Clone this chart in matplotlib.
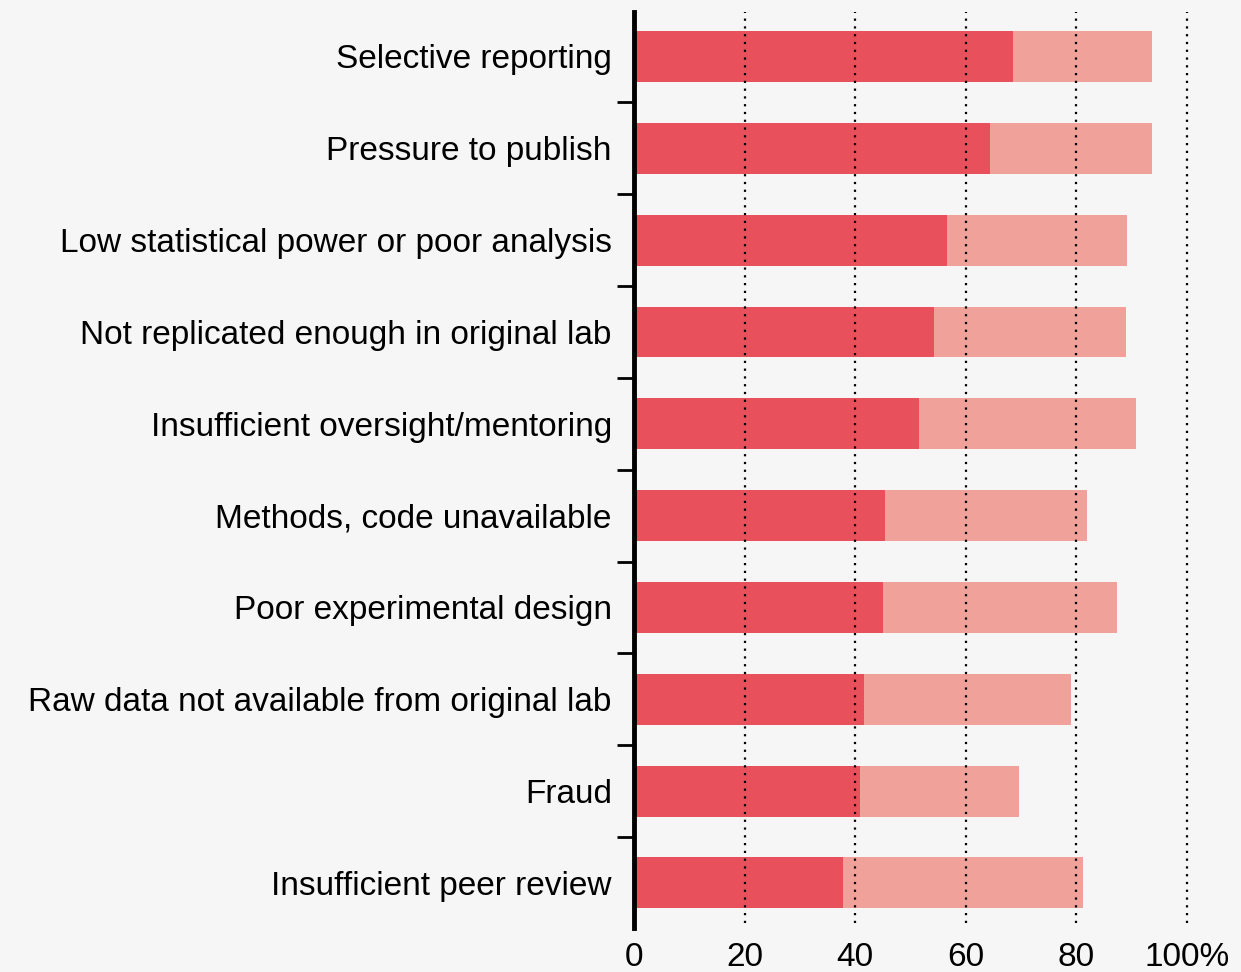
import matplotlib.pyplot as plt
import numpy as np

categories = ["Selective reporting", "Pressure to publish",
              "Low statistical power or poor analysis",
              "Not replicated enough in original lab",
              "Insufficient oversight/mentoring",
              "Methods, code unavailable",
              "Poor experimental design",
              "Raw data not available from original lab",
              "Fraud", "Insufficient peer review"]
always = [68.5, 64.4, 56.6, 54.2, 51.5, 45.4, 45.0, 41.6, 40.9, 37.8]
sometimes = [25.2, 29.3, 32.6, 34.8, 39.3, 36.5, 42.3, 37.4, 28.7, 43.4]
xticks = [0, 20, 40, 60, 80, 100]
xlabels = ["0", "20", "40", "60", "80", "100%"]

plt.rcParams['font.family'] = ['Liberation Sans', 'DejaVu Sans']

fig = plt.figure(figsize=(12.41, 9.72), dpi=100, facecolor='#f6f6f6')
ax = fig.add_axes([0.5109, 0.0453, 0.4456, 0.9424])
ax.set_facecolor('#f6f6f6')

y = np.arange(len(categories))
ax.barh(y, always, height=0.555, color='#e8505b', zorder=2)
ax.barh(y, sometimes, left=always, height=0.555, color='#efa19a', zorder=2)

# dotted grid lines drawn over the bars
for xv in xticks[1:]:
    ax.plot([xv, xv], [0.005, 1.0], transform=ax.get_xaxis_transform(),
            color='black', lw=1.6, linestyle=(0, (1, 2.5)), zorder=3,
            clip_on=False)

ax.set_xlim(0, 100)
ax.set_ylim(9.49, -0.485)

ax.set_yticks(y)
ax.set_yticklabels(categories, fontsize=24)
ax.set_yticks(y[:-1] + 0.5, minor=True)
ax.tick_params(axis='y', which='major', length=0, pad=16)
ax.tick_params(axis='y', which='minor', length=12, width=2, color='black')

ax.set_xticks(xticks)
ax.set_xticklabels(xlabels, fontsize=24)
ax.tick_params(axis='x', length=0, pad=10)

for s in ['top', 'right', 'bottom']:
    ax.spines[s].set_visible(False)
ax.spines['left'].set_linewidth(3.5)
ax.spines['left'].set_zorder(4)

fig.savefig("out.png", dpi=100, facecolor=fig.get_facecolor())
